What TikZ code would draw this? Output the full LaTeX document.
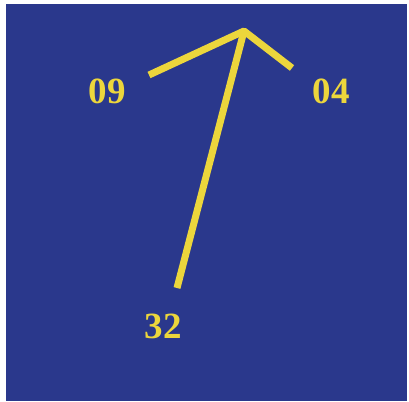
\documentclass[tikz,border=0pt]{standalone}
\usepackage{fontspec}
\setmainfont{Liberation Serif}
\definecolor{bgblue}{RGB}{42,56,140}
\definecolor{needle}{RGB}{236,214,60}
\begin{document}
\begin{tikzpicture}[x=1pt,y=-1pt,
  arm/.style={draw=needle,line width=7pt,line cap=butt,line join=round},
  lbl/.style={text=needle,font=\fontsize{37}{40}\selectfont\bfseries,inner sep=0pt}]
\useasboundingbox (0,0) rectangle (409,401);
\fill[white] (0,0) rectangle (409,401);
\fill[bgblue] (6,4) rectangle (407,401);
\coordinate (apex) at (244,31);
\coordinate (left) at (149,75);
\coordinate (right) at (292,68);
\coordinate (tail) at (177,288);
\draw[arm] (left) -- (apex) -- (right);
\draw[arm] (tail) -- (apex);
\node[lbl] (n09) at (107,91) {09};
\node[lbl] (n04) at (331,91) {04};
\node[lbl] (n32) at (163,326) {32};
\end{tikzpicture}
\end{document}
